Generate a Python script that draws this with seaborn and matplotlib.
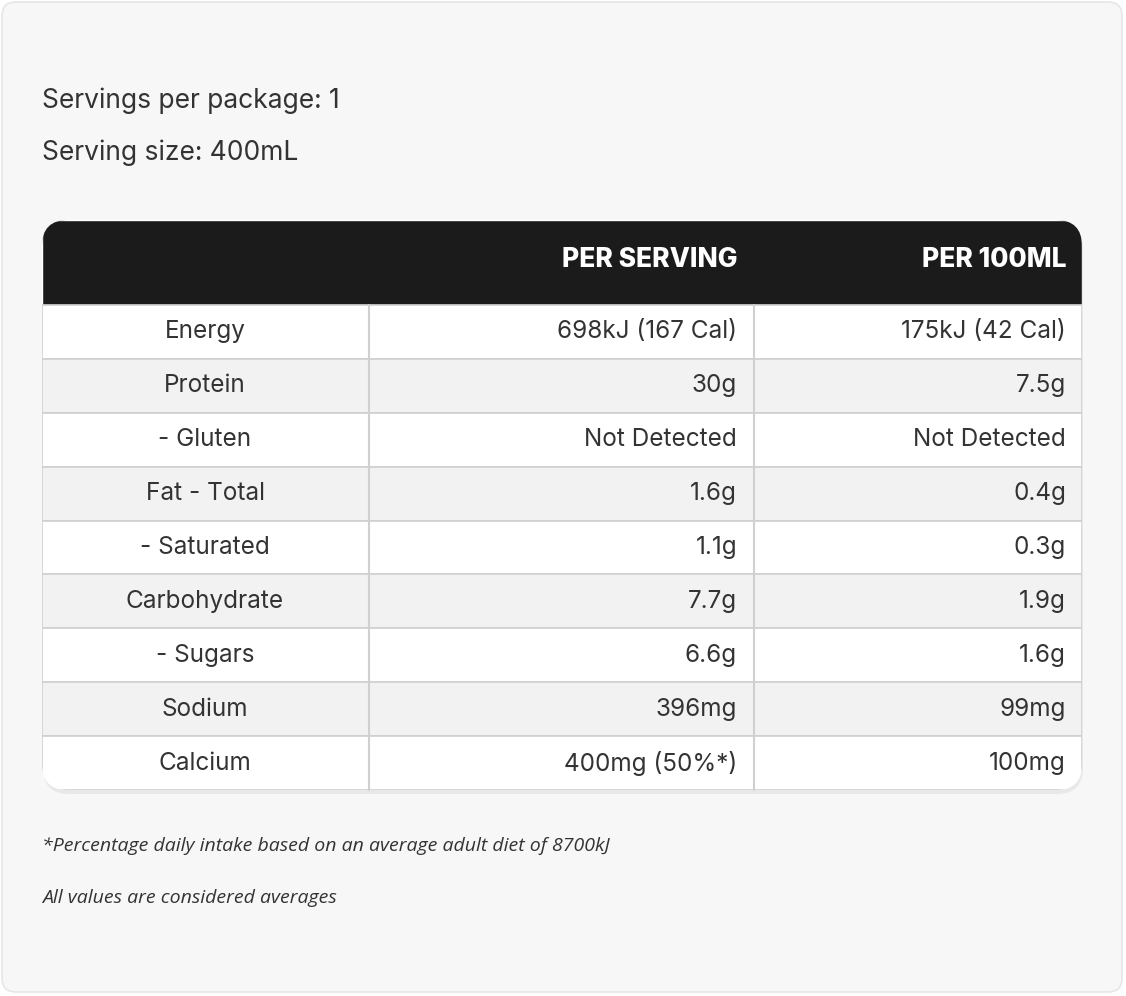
import matplotlib
matplotlib.use("Agg")
import matplotlib.pyplot as plt
import seaborn as sns
from matplotlib.patches import FancyBboxPatch

sns.set_theme(style="white")
plt.rcParams['font.family'] = ['Inter', 'Open Sans', 'DejaVu Sans']

header_cols = ["", "PER SERVING", "PER 100ML"]
nutrients = ["Energy", "Protein", "- Gluten", "Fat - Total", "- Saturated",
             "Carbohydrate", "- Sugars", "Sodium", "Calcium"]
per_serving = ["698kJ (167 Cal)", "30g", "Not Detected", "1.6g", "1.1g",
               "7.7g", "6.6g", "396mg", "400mg (50%*)"]
per_100ml = ["175kJ (42 Cal)", "7.5g", "Not Detected", "0.4g", "0.3g",
             "1.9g", "1.6g", "99mg", "100mg"]
intro = ["Servings per package: 1", "Serving size: 400mL"]
notes = ["*Percentage daily intake based on an average adult diet of 8700kJ",
         "All values are considered averages"]

fig = plt.figure(figsize=(11.26, 9.96), dpi=100)
fig.patch.set_facecolor("white")
ax = fig.add_axes([0, 0, 1, 1])
ax.set_xlim(0, 1126); ax.set_ylim(996, 0); ax.axis("off")

ax.add_patch(FancyBboxPatch((2, 2), 1120, 990, boxstyle="round,pad=0,rounding_size=14",
                            fc="#f7f7f7", ec="#e6e6e6", lw=1.2))
for i, t in enumerate(intro):
    ax.text(42, 101 + i * 52, t, fontsize=19, color="#333333", va="center")

x0, x1, top, hdr_b, bot = 42, 1082, 220, 305, 790
rh = (bot - hdr_b) / len(nutrients)
ax.add_patch(FancyBboxPatch((x0 + 1, top + 4), x1 - x0, bot - top,
                            boxstyle="round,pad=0,rounding_size=26", fc="#000000", alpha=0.06, ec="none"))
clip = FancyBboxPatch((x0, top), x1 - x0, bot - top, boxstyle="round,pad=0,rounding_size=26",
                      fc="white", ec="none")
ax.add_patch(clip)
hb = ax.barh([(top + hdr_b) / 2], [x1 - x0], left=x0, height=hdr_b - top, color="#1b1b1c")
ys = [hdr_b + rh * (i + 0.5) for i in range(len(nutrients))]
colors = ["white" if i % 2 == 0 else "#f2f2f2" for i in range(len(nutrients))]
rb = ax.barh(ys, [x1 - x0] * len(ys), left=x0, height=rh, color=colors,
             edgecolor="#d0d0d0", linewidth=1.2)
for p in list(hb) + list(rb):
    p.set_clip_path(clip)
for xv in (369, 754):
    ax.plot([xv, xv], [hdr_b, bot], color="#d0d0d0", lw=1.5)

ax.text(737, 260, header_cols[1], fontsize=19, fontweight="heavy", color="white", ha="right", va="center")
ax.text(1066, 260, header_cols[2], fontsize=19, fontweight="heavy", color="white", ha="right", va="center")
for y, n, a, b in zip(ys, nutrients, per_serving, per_100ml):
    ax.text(205, y, n, fontsize=17.5, color="#333333", ha="center", va="center")
    ax.text(737, y, a, fontsize=17.5, color="#333333", ha="right", va="center")
    ax.text(1066, y, b, fontsize=17.5, color="#333333", ha="right", va="center")

for i, t in enumerate(notes):
    ax.text(42, 846 + i * 52, t, fontsize=14, style="italic", color="#333333", va="center",
            family=['Open Sans', 'DejaVu Sans'])

fig.savefig("out.png", dpi=100, facecolor="white")
